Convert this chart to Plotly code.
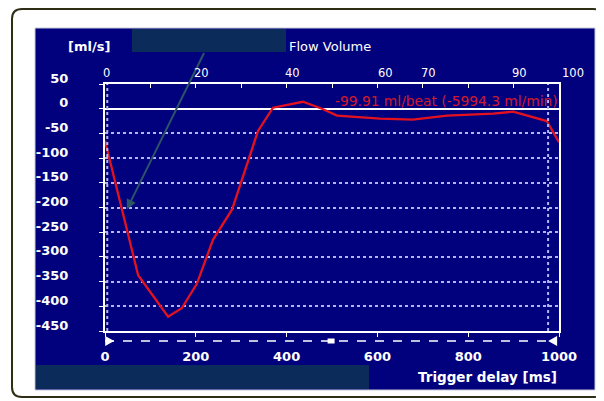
import plotly.graph_objects as go

# ---- data ----
trigger_delay_ms = [0, 73, 139, 169, 202, 238, 280, 337, 370, 436, 478, 511, 606, 678, 753, 855, 899, 973, 1000]
flow_ml_s = [-65, -337, -421, -404, -355, -265, -204, -45, 2, 14, 0, -14, -20, -22, -14, -10, -6, -25, -68]

y_ticks = [50, 0, -50, -100, -150, -200, -250, -300, -350, -400, -450]
x_ticks = [0, 200, 400, 600, 800, 1000]
top_labels = ["0", "20", "40", "60", "70", "90", "100"]
top_label_ms = [4, 212, 414, 617, 712, 914, 1030]
cursor_ms = [5, 976]
slider_start_ms = 7
slider_end_ms = 987
slider_mark_ms = 498
readout = "-99.91 ml/beat (-5994.3 ml/min)"

NAVY = "#01017e"
STRIP = "#0b2b5a"
GRID = "#b4b4f0"
FONT = "DejaVu Sans"

# page body has an 8px margin; figure drawn at (8, 8)
OFF = 8
W, H = 604 - OFF, 401 - OFF
# plot area in screen pixels: x 105..559, y 84..331
SX0, SX1, SY0, SY1 = 105, 559, 84, 331
L, T = SX0 - OFF, SY0 - OFF
R = W - (SX1 - OFF)
B = H - (SY1 - OFF)
PW, PH = SX1 - SX0, SY1 - SY0


def PX(px):
    return (px - SX0) / PW


def PY(py):
    return (SY1 - py) / PH


fig = go.Figure()

fig.add_trace(go.Scatter(
    x=trigger_delay_ms, y=flow_ml_s, mode="lines",
    line=dict(color="#e4121f", width=2.3), hoverinfo="skip", showlegend=False))

# invisible trace for top axis
fig.add_trace(go.Scatter(x=[0, 1000], y=[0, 0], xaxis="x2", mode="lines",
                         line=dict(width=0), hoverinfo="skip", showlegend=False))

shapes = []
# outer rounded frame
x0, y0, x1, y1, r = PX(12), PY(9), PX(603), PY(397), 10
rx, ry = r / PW, r / PH
path = (f"M {x0+rx},{y0} L {x1-rx},{y0} Q {x1},{y0} {x1},{y0-ry} "
        f"L {x1},{y1+ry} Q {x1},{y1} {x1-rx},{y1} L {x0+rx},{y1} "
        f"Q {x0},{y1} {x0},{y1+ry} L {x0},{y0-ry} Q {x0},{y0} {x0+rx},{y0} Z")
shapes.append(dict(type="path", xref="paper", yref="paper", path=path,
                   line=dict(color="#2e2e14", width=2), fillcolor="white", layer="below"))
# navy panel
shapes.append(dict(type="rect", xref="paper", yref="paper",
                   x0=PX(35), x1=PX(595), y0=PY(390), y1=PY(28),
                   fillcolor=NAVY, line=dict(color="#c8c8d8", width=1), layer="below"))
# dark strips
shapes.append(dict(type="rect", xref="paper", yref="paper",
                   x0=PX(132), x1=PX(286), y0=PY(52), y1=PY(29),
                   fillcolor=STRIP, line=dict(width=0), layer="below"))
shapes.append(dict(type="rect", xref="paper", yref="paper",
                   x0=PX(36), x1=PX(369), y0=PY(389), y1=PY(365),
                   fillcolor=STRIP, line=dict(width=0), layer="below"))
# dashed slider line
sy = PY(341)
shapes.append(dict(type="line", xref="paper", yref="paper",
                   x0=PX(105), x1=PX(556), y0=sy, y1=sy,
                   line=dict(color="white", width=1.5, dash="dash")))
# slider triangles and mark
tw, th = 9 / PW, 5 / PH
xs = slider_start_ms / 1000 - 3 / PW
shapes.append(dict(type="path", xref="paper", yref="paper",
                   path=f"M {xs},{sy+th} L {xs+tw},{sy} L {xs},{sy-th} Z",
                   fillcolor="white", line=dict(width=0)))
xe = slider_end_ms / 1000 + 4 / PW
shapes.append(dict(type="path", xref="paper", yref="paper",
                   path=f"M {xe},{sy+th} L {xe-tw},{sy} L {xe},{sy-th} Z",
                   fillcolor="white", line=dict(width=0)))
xm = slider_mark_ms / 1000
shapes.append(dict(type="rect", xref="paper", yref="paper",
                   x0=xm - 3.5 / PW, x1=xm + 3.5 / PW, y0=sy - 2.5 / PH, y1=sy + 2.5 / PH,
                   fillcolor="white", line=dict(width=0)))
# cursor lines
for c in cursor_ms:
    shapes.append(dict(type="line", xref="x", yref="paper", x0=c, x1=c, y0=0, y1=1,
                       line=dict(color=GRID, width=2, dash="dot")))

annotations = [
    dict(text="<b>[ml/s]</b>", xref="paper", yref="paper", x=PX(89), y=PY(46),
         xanchor="center", yanchor="middle",
         showarrow=False, font=dict(family=FONT, size=13, color="white")),
    dict(text="Flow Volume", xref="paper", yref="paper", x=PX(287), y=PY(46),
         xanchor="left", yanchor="middle",
         showarrow=False, font=dict(family=FONT, size=13, color="white")),
    dict(text="<b>Trigger delay [ms]</b>", xref="paper", yref="paper", x=PX(559), y=PY(377),
         xanchor="right", yanchor="middle",
         showarrow=False, font=dict(family=FONT, size=13.5, color="white")),
    dict(text=readout, xref="paper", yref="paper", x=PX(560), y=PY(101),
         xanchor="right", yanchor="middle",
         showarrow=False, font=dict(family=FONT, size=13.8, color="#d41a2a")),
    # arrow
    dict(text="", xref="x", yref="y", x=48, y=-204, ax=78, ay=-158,
         showarrow=True, arrowhead=2, arrowsize=1, arrowwidth=2, arrowcolor="#2b5466"),
]
for lab, pos in zip(top_labels, top_label_ms):
    annotations.append(dict(text=lab, xref="paper", yref="paper", x=pos / 1000, y=PY(73),
                            xanchor="center", yanchor="middle",
                            showarrow=False, font=dict(family=FONT, size=11.5, color="white")))

fig.update_layout(
    width=W, height=H, margin=dict(l=L, r=R, t=T, b=B, autoexpand=False),
    paper_bgcolor="white", plot_bgcolor=NAVY,
    shapes=shapes, annotations=annotations, showlegend=False,
    xaxis=dict(range=[0, 1000], tickvals=x_ticks, ticktext=[str(v) for v in x_ticks],
               showgrid=False, zeroline=False, showline=True, linecolor="white",
               linewidth=2, mirror=True, ticks="outside", ticklen=4, tickcolor="white",
               ticklabelstandoff=8,
               tickfont=dict(family=FONT, size=13, color="white", weight="bold")),
    xaxis2=dict(range=[0, 1000], overlaying="x", side="top", anchor="y",
                tickvals=list(range(100, 1000, 100)), ticks="inside", ticklen=4,
                tickcolor="white", showticklabels=False, showgrid=False,
                zeroline=False, showline=False),
    yaxis=dict(range=[-450, 50], tickvals=y_ticks, ticktext=[str(v) for v in y_ticks],
               showgrid=True, gridcolor=GRID, griddash="dot", gridwidth=1.5,
               zeroline=True, zerolinecolor="white", zerolinewidth=2,
               showline=True, linecolor="white", linewidth=2, mirror=True,
               ticks="outside", ticklen=4, tickcolor="white",
               ticklabelstandoff=28, ticklabelshift=-6,
               tickfont=dict(family=FONT, size=13, color="white", weight="bold")),
)

fig.write_html("out.html")
